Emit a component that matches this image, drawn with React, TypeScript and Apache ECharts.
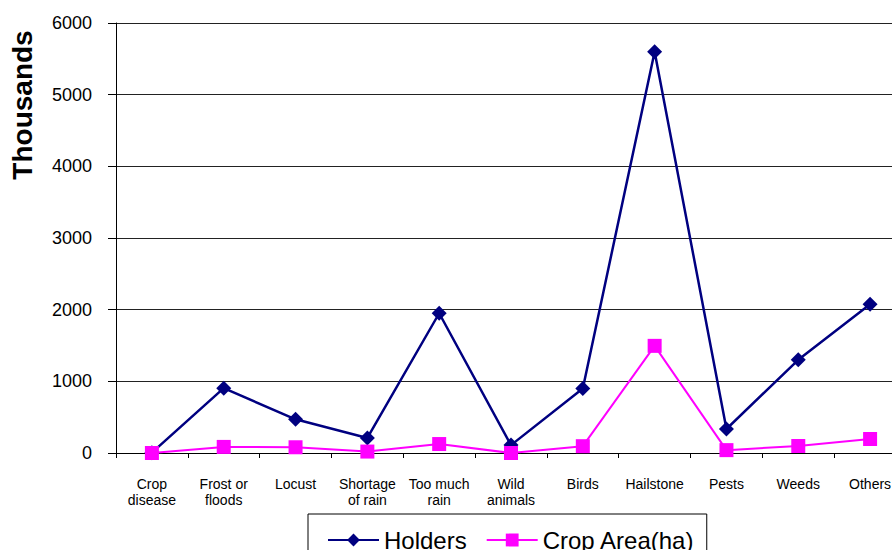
import React, { useEffect, useRef } from "react";
import * as echarts from "echarts";

const categories = [
  "Crop\ndisease",
  "Frost or\nfloods",
  "Locust",
  "Shortage\nof rain",
  "Too much\nrain",
  "Wild\nanimals",
  "Birds",
  "Hailstone",
  "Pests",
  "Weeds",
  "Others",
];
const holders = [5, 905, 470, 210, 1950, 110, 900, 5600, 335, 1300, 2075];
const cropArea = [0, 85, 80, 20, 125, 0, 95, 1495, 40, 98, 195];
const yTicks = { min: 0, max: 6000, interval: 1000 };

const FONT = "'Liberation Sans', Arial, sans-serif";

export default function App() {
  const ref = useRef<HTMLDivElement>(null);
  useEffect(() => {
    if (!ref.current) return;
    const chart = echarts.init(ref.current, null, { renderer: "svg" });
    chart.setOption({
      animation: false,
      backgroundColor: "#ffffff",
      textStyle: { fontFamily: FONT },
      grid: { left: 116, top: 23, width: 790, height: 430 },
      graphic: [
        {
          type: "text",
          x: 22,
          y: 105,
          rotation: Math.PI / 2,
          style: {
            text: "Thousands",
            font: `bold 28px ${FONT}`,
            fill: "#000",
            align: "center",
            verticalAlign: "middle",
          },
        },
      ],
      legend: {
        left: 308,
        top: 514,
        orient: "horizontal",
        padding: [14, 12, 12, 19],
        borderColor: "#000",
        borderWidth: 1,
        backgroundColor: "#fff",
        itemWidth: 51,
        itemHeight: 16,
        itemGap: 19,
        textStyle: { fontSize: 24, color: "#000", fontFamily: FONT },
        data: ["Holders", "Crop Area(ha)"],
      },
      xAxis: {
        type: "category",
        data: categories,
        boundaryGap: true,
        axisLine: { show: true, lineStyle: { color: "#000", width: 1 } },
        axisTick: { show: true, length: 5, inside: false, lineStyle: { color: "#000" } },
        axisLabel: {
          interval: 0,
          margin: 23,
          fontSize: 14,
          lineHeight: 16,
          color: "#000",
          fontFamily: FONT,
        },
        splitLine: { show: false },
      },
      yAxis: {
        type: "value",
        min: yTicks.min,
        max: yTicks.max,
        interval: yTicks.interval,
        axisLine: { show: true, lineStyle: { color: "#000", width: 1 } },
        axisTick: { show: true, length: 8, lineStyle: { color: "#000" } },
        axisLabel: {
          margin: 24,
          fontSize: 18,
          color: "#000",
          fontFamily: FONT,
          formatter: (v: number) => String(v),
        },
        splitLine: { show: true, lineStyle: { color: "#222", width: 1 } },
      },
      series: [
        {
          name: "Holders",
          type: "line",
          data: holders,
          symbol: "diamond",
          symbolSize: 15,
          color: "#000080",
          lineStyle: { color: "#000080", width: 2.5 },
          itemStyle: { color: "#000080" },
          z: 3,
        },
        {
          name: "Crop Area(ha)",
          type: "line",
          data: cropArea,
          symbol: "rect",
          symbolSize: 14,
          color: "#ff00ff",
          lineStyle: { color: "#ff00ff", width: 2 },
          itemStyle: { color: "#ff00ff" },
          z: 4,
        },
      ],
    });
    return () => chart.dispose();
  }, []);
  return (
    <div style={{ width: 892, height: 550, position: "absolute", left: 0, top: 0, overflow: "hidden" }}>
      <div ref={ref} style={{ width: 910, height: 550 }} />
    </div>
  );
}
